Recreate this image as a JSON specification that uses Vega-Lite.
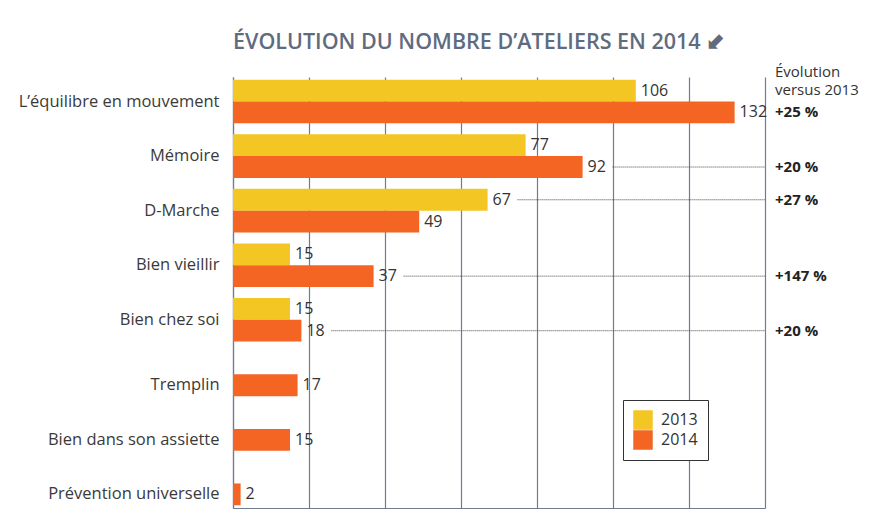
{
  "$schema": "https://vega.github.io/schema/vega-lite/v6.json",
  "width": 532,
  "height": 431,
  "autosize": {"type": "none"},
  "padding": {"left": 233, "top": 77, "right": 116, "bottom": 3},
  "background": "white",
  "config": {"view": {"stroke": null}, "font": "Open Sans"},
  "title": {
    "text": "ÉVOLUTION DU NOMBRE D’ATELIERS EN 2014 ⬋",
    "anchor": "start",
    "frame": "group",
    "baseline": "alphabetic",
    "offset": -6,
    "fontSize": 21.5,
    "fontWeight": 600,
    "color": "#5F6B7F",
    "font": "Open Sans"
  },
  "data": {
    "values": [
      {"atelier": "L’équilibre en mouvement", "annee": "2013", "n": 106},
      {"atelier": "L’équilibre en mouvement", "annee": "2014", "n": 132, "evolution": "+25 %"},
      {"atelier": "Mémoire", "annee": "2013", "n": 77},
      {"atelier": "Mémoire", "annee": "2014", "n": 92, "evolution": "+20 %"},
      {"atelier": "D-Marche", "annee": "2013", "n": 67, "evolution": "+27 %"},
      {"atelier": "D-Marche", "annee": "2014", "n": 49},
      {"atelier": "Bien vieillir", "annee": "2013", "n": 15},
      {"atelier": "Bien vieillir", "annee": "2014", "n": 37, "evolution": "+147 %"},
      {"atelier": "Bien chez soi", "annee": "2013", "n": 15},
      {"atelier": "Bien chez soi", "annee": "2014", "n": 18, "evolution": "+20 %"},
      {"atelier": "Tremplin", "annee": "2014", "n": 17},
      {"atelier": "Bien dans son assiette", "annee": "2014", "n": 15},
      {"atelier": "Prévention universelle", "annee": "2014", "n": 2}
    ]
  },
  "encoding": {
    "y": {
      "field": "atelier",
      "type": "nominal",
      "sort": ["L’équilibre en mouvement", "Mémoire", "D-Marche", "Bien vieillir", "Bien chez soi", "Tremplin", "Bien dans son assiette", "Prévention universelle"],
      "scale": {"paddingInner": 0.2, "paddingOuter": 0.05},
      "axis": {
        "title": null,
        "ticks": false,
        "domainColor": "#6E7B91",
        "domainWidth": 1.2,
        "labelFontSize": 16.5,
        "labelColor": "#3a3a3a",
        "labelPadding": 14,
        "labelLimit": 0,
        "labelFont": "Open Sans",
        "labelOffset": {"condition": {"test": "indexof(['Tremplin','Bien dans son assiette','Prévention universelle'], datum.value) >= 0", "value": 11}, "value": 0}
      }
    }
  },
  "layer": [
    {
      "mark": {"type": "bar"},
      "encoding": {
        "x": {
          "field": "n",
          "type": "quantitative",
          "scale": {"domain": [0, 140], "nice": false},
          "axis": {
            "title": null,
            "labels": false,
            "ticks": false,
            "values": [0, 20, 40, 60, 80, 100, 120, 140],
            "grid": true,
            "gridColor": "#6E7B91",
            "gridWidth": 1.2,
            "gridOpacity": 1,
            "domainColor": "#6E7B91",
            "domainWidth": 1.2
          }
        },
        "yOffset": {"field": "annee", "type": "nominal", "scale": {"domain": ["2013", "2014"], "paddingInner": 0, "paddingOuter": 0}},
        "color": {
          "field": "annee",
          "type": "nominal",
          "scale": {"domain": ["2013", "2014"], "range": ["#F3C623", "#F46524"]},
          "legend": {
            "title": null,
            "orient": "none",
            "legendX": 390,
            "legendY": 323,
            "symbolType": "square",
            "symbolSize": 380,
            "symbolStrokeWidth": 0,
            "rowPadding": 0,
            "labelFontSize": 16,
            "labelColor": "#333333",
            "labelFont": "Open Sans",
            "labelOffset": 8,
            "strokeColor": "#333333",
            "fillColor": "white",
            "padding": 10,
            "cornerRadius": 0
          }
        }
      }
    },
    {
      "mark": {"type": "text", "align": "left", "baseline": "middle", "dx": 5, "fontSize": 16, "color": "#333333"},
      "encoding": {
        "x": {"field": "n", "type": "quantitative"},
        "yOffset": {"field": "annee", "type": "nominal", "scale": {"domain": ["2013", "2014"], "paddingInner": 0, "paddingOuter": 0}},
        "text": {"field": "n", "type": "quantitative"}
      }
    },
    {
      "transform": [{"filter": "isValid(datum.evolution) && datum.n < 130"}],
      "mark": {"type": "rule", "strokeDash": [1, 1], "color": "#444444", "strokeWidth": 1, "xOffset": 30},
      "encoding": {
        "x": {"field": "n", "type": "quantitative"},
        "x2": {"datum": 140},
        "yOffset": {"field": "annee", "type": "nominal", "scale": {"domain": ["2013", "2014"], "paddingInner": 0, "paddingOuter": 0}}
      }
    },
    {
      "transform": [{"filter": "isValid(datum.evolution)"}],
      "mark": {"type": "text", "align": "left", "baseline": "middle", "dx": 10, "fontSize": 15, "fontWeight": "bold", "color": "#222222"},
      "encoding": {
        "x": {"datum": 140},
        "yOffset": {"field": "annee", "type": "nominal", "scale": {"domain": ["2013", "2014"], "paddingInner": 0, "paddingOuter": 0}},
        "text": {"field": "evolution", "type": "nominal"}
      }
    },
    {
      "data": {"values": [{"atelier": "L’équilibre en mouvement"}]},
      "mark": {"type": "text", "align": "left", "baseline": "bottom", "dx": 10, "dy": -22, "fontSize": 15, "lineHeight": 18, "color": "#333333", "text": ["Évolution", "versus 2013"]},
      "encoding": {
        "x": {"datum": 140}
      }
    }
  ]
}
